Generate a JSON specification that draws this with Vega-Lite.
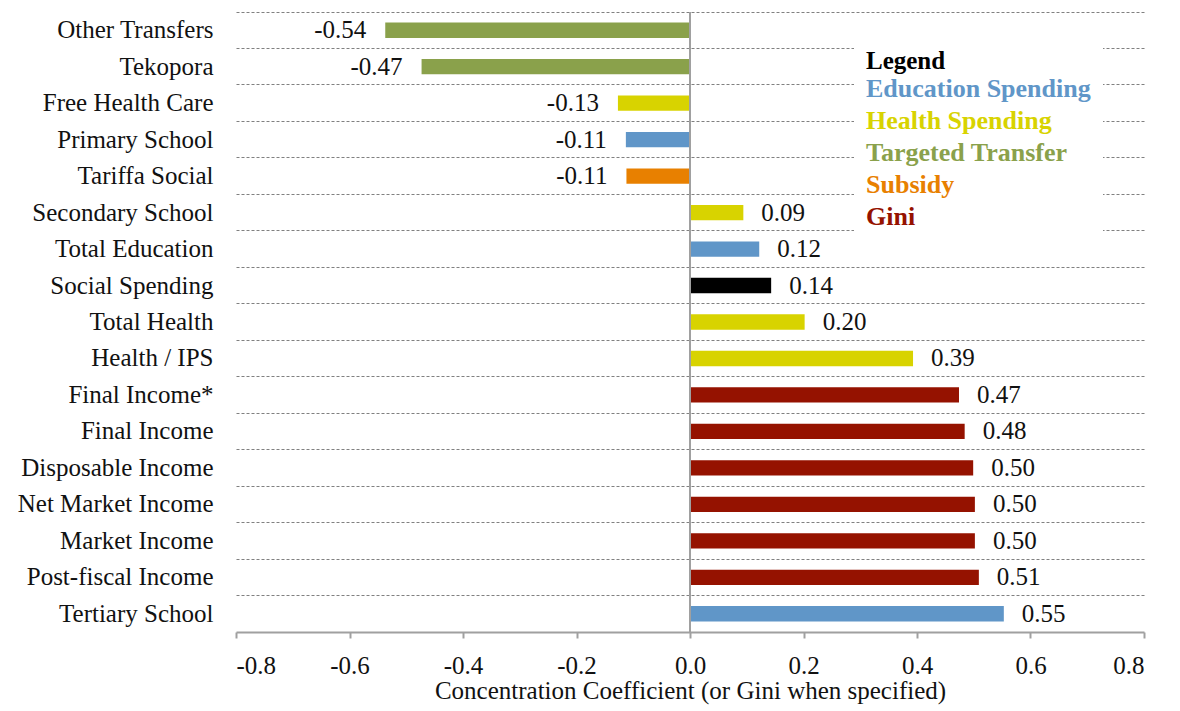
{
  "$schema": "https://vega.github.io/schema/vega-lite/v6.json",
  "autosize": "none",
  "width": 908,
  "height": 620,
  "padding": {"left": 236, "top": 12, "right": 36, "bottom": 79},
  "background": "white",
  "config": {
    "view": {"stroke": null},
    "font": "Liberation Serif",
    "locale": {"number": {"decimal": ".", "thousands": ",", "grouping": [3], "currency": ["$", ""], "minus": "-"}},
    "axis": {"labelFont": "Liberation Serif", "titleFont": "Liberation Serif", "labelColor": "#111", "titleColor": "#111"}
  },
  "data": {
    "values": [
      {"item": "Other Transfers", "value": -0.537, "type": "Targeted Transfer"},
      {"item": "Tekopora", "value": -0.473, "type": "Targeted Transfer"},
      {"item": "Free Health Care", "value": -0.127, "type": "Health Spending"},
      {"item": "Primary School", "value": -0.113, "type": "Education Spending"},
      {"item": "Tariffa Social", "value": -0.112, "type": "Subsidy"},
      {"item": "Secondary School", "value": 0.094, "type": "Health Spending"},
      {"item": "Total Education", "value": 0.122, "type": "Education Spending"},
      {"item": "Social Spending", "value": 0.143, "type": "Social Spending"},
      {"item": "Total Health", "value": 0.202, "type": "Health Spending"},
      {"item": "Health / IPS", "value": 0.393, "type": "Health Spending"},
      {"item": "Final Income*", "value": 0.474, "type": "Gini"},
      {"item": "Final Income", "value": 0.484, "type": "Gini"},
      {"item": "Disposable Income", "value": 0.499, "type": "Gini"},
      {"item": "Net Market Income", "value": 0.502, "type": "Gini"},
      {"item": "Market Income", "value": 0.502, "type": "Gini"},
      {"item": "Post-fiscal Income", "value": 0.509, "type": "Gini"},
      {"item": "Tertiary School", "value": 0.553, "type": "Education Spending"}
    ]
  },
  "encoding": {
    "y": {
      "field": "item", "type": "nominal", "sort": null,
      "scale": {"paddingInner": 0, "paddingOuter": 0},
      "axis": {
        "title": null, "domain": false, "ticks": false, "bandPosition": 0,
        "labelFontSize": 25, "labelPadding": 23, "labelLimit": 300,
        "grid": true, "gridDash": [3, 2], "gridColor": "#808080", "gridWidth": 1.2
      }
    }
  },
  "layer": [
    {
      "mark": {"type": "bar", "height": {"band": 0.42}},
      "encoding": {
        "x": {
          "field": "value", "type": "quantitative",
          "scale": {"domain": [-0.8, 0.8], "nice": false, "zero": false},
          "axis": {
            "title": "Concentration Coefficient (or Gini when specified)",
            "titleFontSize": 25, "titleFontWeight": "normal", "titlePadding": 0,
            "format": ".1f", "values": [-0.8, -0.6, -0.4, -0.2, 0, 0.2, 0.4, 0.6, 0.8],
            "labelFontSize": 25, "labelPadding": 15,
            "grid": false, "domainColor": "#A0A0A0", "domainWidth": 2,
            "tickColor": "#A0A0A0", "tickSize": 6, "tickWidth": 2
          }
        },
        "color": {
          "field": "type", "type": "nominal",
          "scale": {
            "domain": ["Education Spending", "Health Spending", "Targeted Transfer", "Subsidy", "Gini", "Social Spending"],
            "range": ["#6096C8", "#D8D300", "#8AA14B", "#E88000", "#951200", "#000000"]
          },
          "legend": {
            "values": ["Education Spending", "Health Spending", "Targeted Transfer", "Subsidy", "Gini"],
            "title": "Legend", "orient": "none", "legendX": 618, "legendY": 25,
            "titleFontSize": 25, "titleFontWeight": "bold", "titleColor": "#000", "titlePadding": 2,
            "labelFontSize": 26, "labelFontWeight": "bold", "labelLimit": 400,
            "symbolSize": 0, "symbolOpacity": 0, "symbolStrokeWidth": 0, "symbolOffset": -30,
            "rowPadding": 6, "fillColor": "white", "padding": 12,
            "encode": {"labels": {"update": {"fill": {"scale": "color", "field": "value"}}}}
          }
        }
      }
    },
    {
      "mark": {"type": "rule", "color": "#A0A0A0", "strokeWidth": 2},
      "encoding": {"x": {"datum": 0}, "y": {"value": 0}, "y2": {"value": 620}}
    },
    {
      "transform": [{"filter": "datum.value < 0"}],
      "mark": {"type": "text", "fontSize": 25, "color": "#111", "baseline": "middle", "align": "right", "dx": -19},
      "encoding": {
        "x": {"field": "value", "type": "quantitative"},
        "text": {"field": "value", "type": "quantitative", "format": ".2f"}
      }
    },
    {
      "transform": [{"filter": "datum.value >= 0"}],
      "mark": {"type": "text", "fontSize": 25, "color": "#111", "baseline": "middle", "align": "left", "dx": 18},
      "encoding": {
        "x": {"field": "value", "type": "quantitative"},
        "text": {"field": "value", "type": "quantitative", "format": ".2f"}
      }
    }
  ]
}
